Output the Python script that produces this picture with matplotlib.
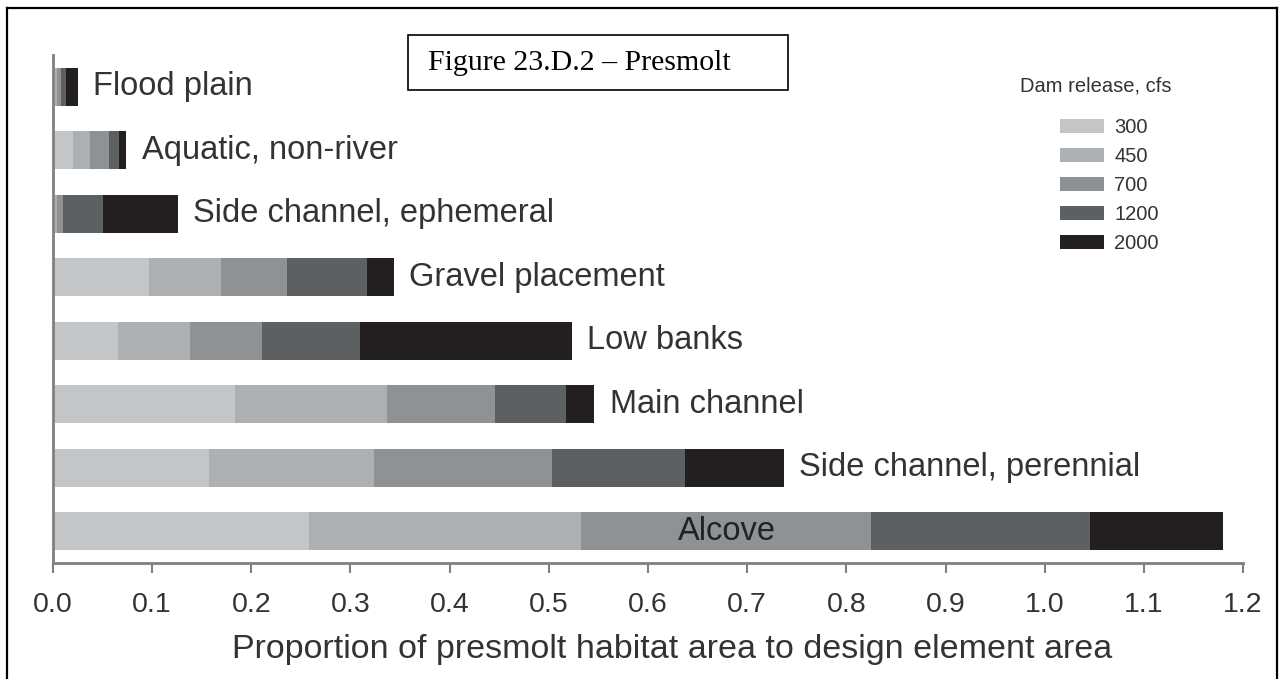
import matplotlib
matplotlib.use("Agg")
import matplotlib.pyplot as plt
from matplotlib.lines import Line2D
from matplotlib.patches import Rectangle
import numpy as np

# Data (bottom to top)
categories = ["Alcove", "Side channel, perennial", "Main channel", "Low banks",
              "Gravel placement", "Side channel, ephemeral", "Aquatic, non-river",
              "Flood plain"]
releases = ["300", "450", "700", "1200", "2000"]

q300 = [0.258, 0.157, 0.184, 0.066, 0.097, 0.002, 0.020, 0.002]
q450 = [0.274, 0.167, 0.153, 0.072, 0.072, 0.002, 0.017, 0.002]
q700 = [0.293, 0.179, 0.109, 0.073, 0.067, 0.006, 0.020, 0.004]
q1200 = [0.221, 0.134, 0.071, 0.099, 0.081, 0.040, 0.010, 0.005]
q2000 = [0.134, 0.100, 0.029, 0.213, 0.027, 0.076, 0.007, 0.012]

series = [q300, q450, q700, q1200, q2000]
colors = ["#c3c6c8", "#adb0b2", "#8f9294", "#5d6063", "#231f20"]
text_color = "#333333"

plt.rcParams["font.family"] = ["Liberation Sans", "DejaVu Sans"]

fig = plt.figure(figsize=(12.82, 6.79), dpi=100)
ax = fig.add_axes([0.0413, 0.1708, 0.9283, 0.7482])

y = np.arange(len(categories))
left = np.zeros(len(categories))
for vals, col, lab in zip(series, colors, releases):
    ax.barh(y, vals, left=left, height=0.6, color=col, label=lab, zorder=2)
    left = left + np.array(vals)

# category labels next to each bar (Alcove sits inside its bar)
for i, (cat, total) in enumerate(zip(categories, left)):
    if cat == "Alcove":
        ax.text(0.68, i, cat, ha="center", va="center", fontsize=23.5,
                color="#222222", zorder=3)
    else:
        ax.annotate(cat, (total, i), xytext=(11, 0), textcoords="offset points",
                    ha="left", va="center", fontsize=23.5, color=text_color)

ax.set_xlim(0, 1.2)
ax.set_ylim(-0.5, 7.5)
ax.set_xticks(np.arange(0, 1.21, 0.1))
ax.set_xticklabels([f"{v:.1f}" for v in np.arange(0, 1.21, 0.1)])
ax.set_yticks([])
ax.tick_params(axis="x", length=7, width=1.5, color="#808080", pad=14,
               labelsize=20.5, labelcolor=text_color)
for s in ["top", "right"]:
    ax.spines[s].set_visible(False)
for s in ["left", "bottom"]:
    ax.spines[s].set_color("#808080")
    ax.spines[s].set_linewidth(2)
ax.set_xlabel("Proportion of presmolt habitat area to design element area",
              fontsize=24.5, color=text_color)
ax.xaxis.set_label_coords(0.52, -0.14)

# legend: title drawn separately, entries below it
fig.text(1020 / 1282, 1 - 86 / 679, "Dam release, cfs", fontsize=14.5,
         color=text_color, ha="left", va="center")
leg = ax.legend(frameon=False, fontsize=14.5, handlelength=2.2, handleheight=0.7,
                labelspacing=0.5, handletextpad=0.5, borderpad=0, borderaxespad=0,
                loc="upper left", bbox_to_anchor=(1060 / 1282, 1 - 118 / 679),
                bbox_transform=fig.transFigure)
for t in leg.get_texts():
    t.set_color(text_color)

# figure caption box
fig.patches.append(Rectangle((0.318, 0.8675), 0.2964, 0.081, transform=fig.transFigure,
                             fill=False, edgecolor="black", linewidth=1.2))
fig.text(0.3339, 0.9072, "Figure 23.D.2 \u2013 Presmolt", fontsize=21.5,
         family=["Liberation Serif", "DejaVu Serif"], va="center", ha="left")

# outer frame (open at the bottom)
for xs, ys in [([0.0055, 0.0055], [0.0, 0.988]), ([0.9961, 0.9961], [0.0, 0.988]),
               ([0.0055, 0.9961], [0.988, 0.988])]:
    fig.lines.append(Line2D(xs, ys, transform=fig.transFigure, color="black", linewidth=1.6))

plt.savefig("out.png", dpi=100)
